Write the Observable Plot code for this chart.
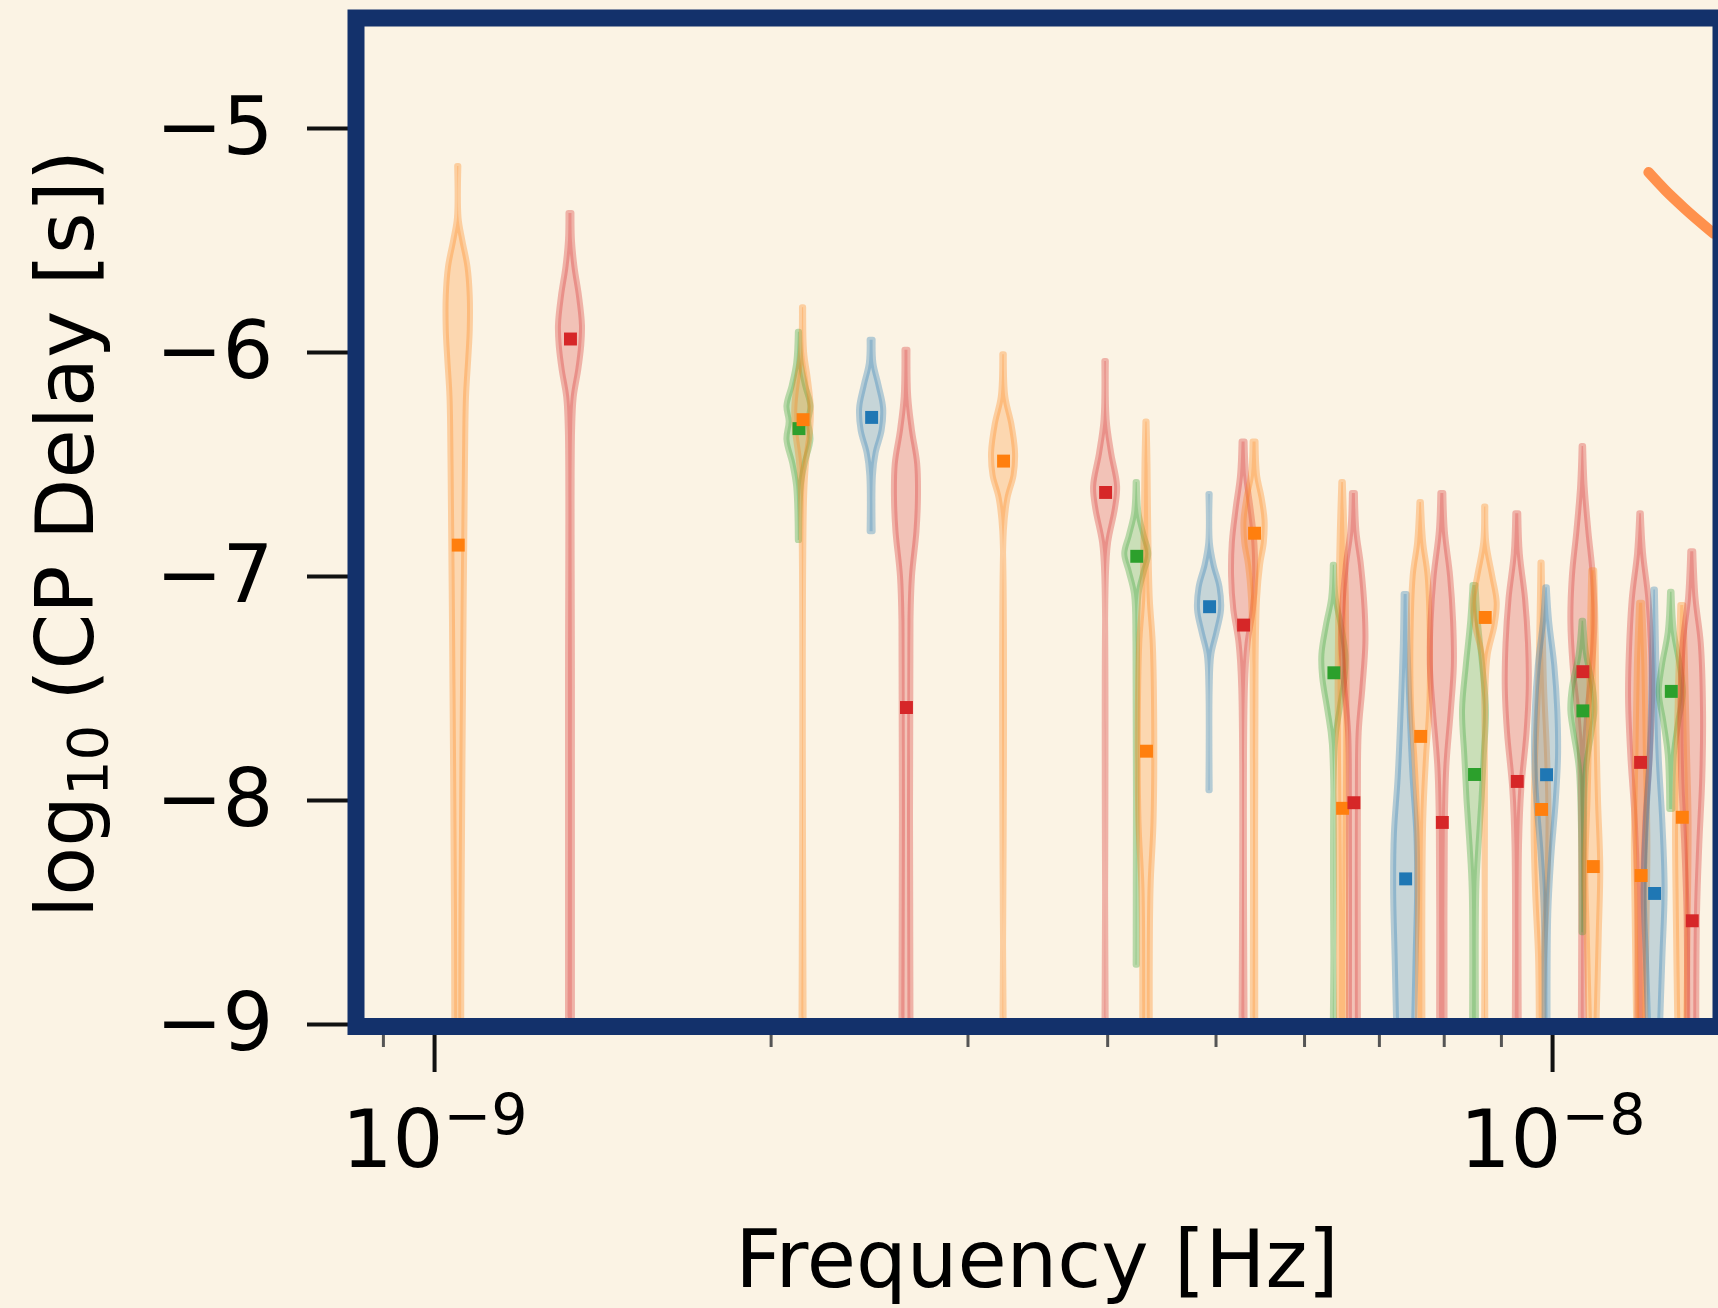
<!DOCTYPE html>
<html>
<head>
<meta charset="utf-8">
<script src="https://cdn.jsdelivr.net/npm/d3@7"></script>
<script src="https://cdn.jsdelivr.net/npm/@observablehq/plot@0.6"></script>
<style>
  html, body { margin: 0; padding: 0; background: #FBF3E4; }
  #chart { width: 1718px; height: 1308px; overflow: hidden; }
</style>
</head>
<body>
<div id="chart"></div>
<script>
// ---------------- data ----------------
const seriesNames = ["S1", "S2", "S3", "S4"];
const seriesColors = ["#1f77b4", "#ff7f0e", "#2ca02c", "#d62728"];

// one entry per violin
const violinSeries = ["S2","S4","S3","S2","S1","S4","S2","S4","S3","S2","S1","S4","S2",
  "S3","S2","S4","S1","S2","S4","S3","S2","S4","S2","S1","S4","S3","S2","S4","S2","S1","S3","S2","S4"];

const violinFreq = [1.050e-9, 1.323e-9, 2.118e-9, 2.136e-9, 2.460e-9, 2.643e-9, 3.228e-9,
  3.983e-9, 4.247e-9, 4.333e-9, 4.934e-9, 5.292e-9, 5.413e-9, 6.374e-9, 6.489e-9, 6.642e-9,
  7.389e-9, 7.621e-9, 7.969e-9, 8.515e-9, 8.705e-9, 9.299e-9, 9.776e-9, 9.877e-9,
  1.0644e-8, 1.0644e-8, 1.0874e-8, 1.1987e-8, 1.2001e-8, 1.2339e-8, 1.2770e-8, 1.3063e-8, 1.3334e-8];

const violinMarker = [-6.86, -5.94, -6.34, -6.30, -6.29, -7.585, -6.485, -6.625, -6.91, -7.78,
  -7.135, -7.217, -6.807, -7.43, -8.035, -8.01, -8.35, -7.714, -8.098, -7.884, -7.183, -7.915,
  -8.04, -7.885, -7.425, -7.60, -8.295, -7.83, -8.335, -8.415, -7.513, -8.075, -8.537];

// density profiles: [log10 delay, relative width]
const violinProfile = [
  [[-5.17,0.2],[-5.4,0.25],[-5.5,0.5],[-5.62,0.85],[-5.75,1],[-5.9,1],[-6.03,0.9],[-6.2,0.75],[-6.5,0.68],[-7.5,0.55],[-8.5,0.45],[-9,0.43]],
  [[-5.38,0.3],[-5.5,0.33],[-5.62,0.5],[-5.75,0.8],[-5.88,1],[-5.97,0.95],[-6.08,0.75],[-6.2,0.45],[-6.35,0.34],[-7.5,0.33],[-9,0.33]],
  [[-5.91,0.2],[-6.05,0.35],[-6.15,0.65],[-6.24,1],[-6.31,0.85],[-6.39,1],[-6.5,0.6],[-6.6,0.35],[-6.84,0.22]],
  [[-5.8,0.22],[-6.0,0.3],[-6.12,0.55],[-6.25,0.75],[-6.35,0.7],[-6.48,0.45],[-6.65,0.3],[-9,0.27]],
  [[-5.945,0.3],[-6.05,0.35],[-6.15,0.7],[-6.25,1],[-6.35,0.9],[-6.45,0.5],[-6.55,0.32],[-6.8,0.3]],
  [[-5.99,0.3],[-6.2,0.35],[-6.35,0.6],[-6.5,0.95],[-6.65,1],[-6.8,0.9],[-7.0,0.6],[-7.2,0.5],[-9,0.5]],
  [[-6.01,0.25],[-6.2,0.35],[-6.32,0.75],[-6.45,1],[-6.55,0.9],[-6.65,0.5],[-6.8,0.25],[-9,0.22]],
  [[-6.04,0.25],[-6.3,0.3],[-6.45,0.6],[-6.6,1],[-6.7,0.85],[-6.85,0.4],[-7.0,0.25],[-9,0.23]],
  [[-6.58,0.2],[-6.72,0.35],[-6.82,0.7],[-6.9,1],[-6.98,0.7],[-7.08,0.35],[-7.3,0.25],[-8.735,0.22]],
  [[-6.31,0.2],[-6.5,0.3],[-6.8,0.35],[-7.1,0.45],[-7.3,0.65],[-7.7,0.75],[-8.1,0.7],[-8.4,0.5],[-9,0.45]],
  [[-6.634,0.2],[-6.85,0.25],[-6.95,0.5],[-7.05,0.9],[-7.15,1],[-7.25,0.7],[-7.35,0.35],[-7.5,0.22],[-7.957,0.2]],
  [[-6.4,0.3],[-6.55,0.4],[-6.7,0.7],[-6.85,0.95],[-7.0,1],[-7.15,0.85],[-7.3,0.5],[-7.5,0.32],[-9,0.3]],
  [[-6.4,0.3],[-6.55,0.4],[-6.65,0.7],[-6.75,0.9],[-6.85,0.85],[-6.95,0.6],[-7.1,0.4],[-7.4,0.3],[-9,0.28]],
  [[-6.95,0.2],[-7.1,0.35],[-7.22,0.7],[-7.35,1],[-7.45,0.95],[-7.6,0.6],[-7.75,0.3],[-9,0.2]],
  [[-6.58,0.25],[-6.8,0.35],[-7.1,0.45],[-7.5,0.5],[-8.0,0.45],[-8.5,0.4],[-9,0.4]],
  [[-6.63,0.3],[-6.8,0.4],[-6.95,0.7],[-7.15,0.95],[-7.3,1],[-7.5,0.8],[-7.7,0.55],[-8.0,0.5],[-9,0.5]],
  [[-7.08,0.3],[-7.3,0.35],[-7.6,0.5],[-7.9,0.7],[-8.15,0.95],[-8.4,1],[-8.7,0.9],[-9,0.8]],
  [[-6.67,0.25],[-6.85,0.4],[-7.0,0.7],[-7.3,0.85],[-7.6,0.8],[-7.8,0.6],[-8.1,0.4],[-9,0.35]],
  [[-6.63,0.3],[-6.8,0.4],[-7.0,0.75],[-7.2,0.95],[-7.4,1],[-7.6,0.8],[-7.85,0.5],[-8.1,0.4],[-9,0.38]],
  [[-7.04,0.3],[-7.2,0.45],[-7.4,0.75],[-7.6,1],[-7.8,0.85],[-8.0,0.7],[-8.2,0.5],[-8.4,0.35],[-9,0.33]],
  [[-6.69,0.2],[-6.85,0.3],[-7.0,0.7],[-7.12,1],[-7.22,0.85],[-7.35,0.4],[-7.5,0.25],[-9,0.22]],
  [[-6.72,0.3],[-6.9,0.4],[-7.1,0.75],[-7.3,0.95],[-7.5,1],[-7.7,0.85],[-7.95,0.5],[-8.2,0.35],[-9,0.33]],
  [[-6.94,0.2],[-7.2,0.3],[-7.5,0.4],[-7.8,0.6],[-8.1,0.7],[-8.4,0.6],[-8.7,0.4],[-9,0.35]],
  [[-7.05,0.25],[-7.2,0.4],[-7.4,0.75],[-7.6,0.95],[-7.8,1],[-8.0,0.85],[-8.25,0.55],[-8.5,0.35],[-9,0.3]],
  [[-6.42,0.25],[-6.6,0.35],[-6.8,0.6],[-7.0,0.9],[-7.2,1],[-7.4,0.85],[-7.6,0.55],[-7.8,0.35],[-9,0.3]],
  [[-7.2,0.25],[-7.35,0.45],[-7.5,0.9],[-7.6,1],[-7.7,0.8],[-7.85,0.45],[-8.1,0.3],[-8.59,0.25]],
  [[-6.975,0.3],[-7.3,0.4],[-7.7,0.45],[-8.0,0.55],[-8.3,0.7],[-8.6,0.6],[-9,0.45]],
  [[-6.72,0.25],[-6.9,0.4],[-7.1,0.75],[-7.35,0.95],[-7.55,1],[-7.8,0.85],[-8.1,0.55],[-8.4,0.4],[-9,0.38]],
  [[-7.12,0.3],[-7.4,0.45],[-7.8,0.55],[-8.2,0.65],[-8.5,0.6],[-9,0.5]],
  [[-7.06,0.25],[-7.4,0.35],[-7.8,0.5],[-8.1,0.75],[-8.4,0.9],[-8.7,0.75],[-9,0.6]],
  [[-7.07,0.25],[-7.25,0.4],[-7.4,0.8],[-7.52,1],[-7.65,0.7],[-7.8,0.4],[-8.04,0.3]],
  [[-7.13,0.3],[-7.5,0.45],[-7.8,0.55],[-8.1,0.65],[-8.5,0.6],[-9,0.5]],
  [[-6.89,0.3],[-7.1,0.45],[-7.3,0.8],[-7.6,0.95],[-7.9,0.9],[-8.2,0.7],[-8.5,0.55],[-9,0.5]]
];

// orange curve in the upper right
const curveFreq = [1.2187e-8, 1.2621e-8, 1.3098e-8, 1.3565e-8, 1.3933e-8];
const curveDelay = [-5.196, -5.277, -5.353, -5.420, -5.469];

// ticks
const yTicks = [-5, -6, -7, -8, -9];
const xMajorTicks = [1e-9, 1e-8];
const xMinorTicks = [9e-10, 2e-9, 3e-9, 4e-9, 5e-9, 6e-9, 7e-9, 8e-9, 9e-9];

// ---------------- layout ----------------
const W = 1718, H = 1308;
const M = {top: 11, right: 0, bottom: 283, left: 352};
const xDomain = [8.445e-10, 1.4074e-8];
const yDomain = [-9.0045, -4.478];
const pxPerDex = (W - M.left - M.right) / Math.log10(xDomain[1] / xDomain[0]);
const halfDex = d => Math.max(0.6, 15 * d - 3) / pxPerDex;

const violinRows = [];
violinProfile.forEach((prof, i) => {
  prof.forEach(([v, d]) => {
    const h = halfDex(d);
    violinRows.push({id: i, series: violinSeries[i], y: v,
      x1: violinFreq[i] * Math.pow(10, -h), x2: violinFreq[i] * Math.pow(10, h)});
  });
});
const markerRows = violinFreq.map((f, i) => ({f, v: violinMarker[i], series: violinSeries[i]}));
const curveRows = curveFreq.map((f, i) => ({f, v: curveDelay[i]}));

const sup = "⁰¹²³⁴⁵⁶⁷⁸⁹";
const fmtPow = d => "10" + String(Math.round(Math.log10(d))).replace("-", "⁻").replace(/\d/g, c => sup[+c]);
const fmtInt = d => String(d).replace("-", "−");

const chart = Plot.plot({
  width: W, height: H,
  marginTop: M.top, marginRight: M.right, marginBottom: M.bottom, marginLeft: M.left,
  style: {background: "#FBF3E4", fontFamily: "DejaVu Sans", color: "black"},
  x: {type: "log", domain: xDomain},
  y: {domain: yDomain},
  color: {domain: seriesNames, range: seriesColors},
  marks: [
    Plot.areaX(violinRows, {y: "y", x1: "x1", x2: "x2", z: "id", fill: "series", stroke: "series",
      fillOpacity: 0.24, strokeOpacity: 0.32, strokeWidth: 6, strokeLinejoin: "round",
      curve: "catmull-rom", clip: true}),
    Plot.dot(markerRows, {x: "f", y: "v", fill: "series", symbol: "square", r: 7.3}),
    Plot.line(curveRows, {x: "f", y: "v", stroke: "#FF914D", strokeWidth: 10.5, strokeLinecap: "round",
      curve: "catmull-rom", clip: true}),
    Plot.axisY(yTicks, {tickSize: 45, tickPadding: 34, fontSize: 80, tickFormat: fmtInt, label: null}),
    Plot.axisX(xMinorTicks, {tickSize: 22, tickFormat: () => "", label: null}),
    Plot.axisX(xMajorTicks, {tickSize: 47, tickPadding: 38, fontSize: 80, tickFormat: fmtPow, label: null}),
    Plot.frame({stroke: "#13316B", strokeWidth: 17, insetTop: 6.5, insetBottom: -1, insetLeft: 3.5, insetRight: -2.5})
  ]
});

document.getElementById("chart").appendChild(chart);
const svg = d3.select(chart);

// tick line weights
svg.selectAll('g[aria-label="y-axis tick"] path').attr("stroke-width", 4).attr("stroke", "#111");
svg.selectAll('g[aria-label="x-axis tick"]').each(function () {
  const n = d3.select(this).selectAll("path").size();
  const isMinor = n === xMinorTicks.length;
  d3.select(this).selectAll("path")
    .attr("stroke-width", isMinor ? 3 : 4)
    .attr("stroke", isMinor ? "#555" : "#111");
});

// superscript exponents on the x tick labels
const unsup = {"⁻": "−"}; [...sup].forEach((c, i) => unsup[c] = String(i));
svg.selectAll('g[aria-label="x-axis tick label"] text').each(function () {
  const s = this.textContent;
  if (!s || !s.startsWith("10")) return;
  const exp = [...s.slice(2)].map(c => unsup[c] ?? c).join("");
  const t = d3.select(this);
  t.text(null);
  t.append("tspan").text("10");
  t.append("tspan").attr("font-size", 57).attr("dy", -32).text(exp);
});

// axis titles
svg.append("text")
  .attr("x", 1037).attr("y", 1287)
  .attr("text-anchor", "middle")
  .attr("font-family", "DejaVu Sans").attr("font-size", 80).attr("fill", "black")
  .text("Frequency [Hz]");
const yl = svg.append("text")
  .attr("transform", "translate(93,918) rotate(-90)")
  .attr("text-anchor", "start")
  .attr("font-family", "DejaVu Sans").attr("font-size", 80).attr("fill", "black");
yl.append("tspan").text("log");
yl.append("tspan").attr("font-size", 56).attr("dy", 14).text("10");
yl.append("tspan").attr("dy", -14).attr("dx", 24).text("(CP Delay [s])");
</script>
</body>
</html>
